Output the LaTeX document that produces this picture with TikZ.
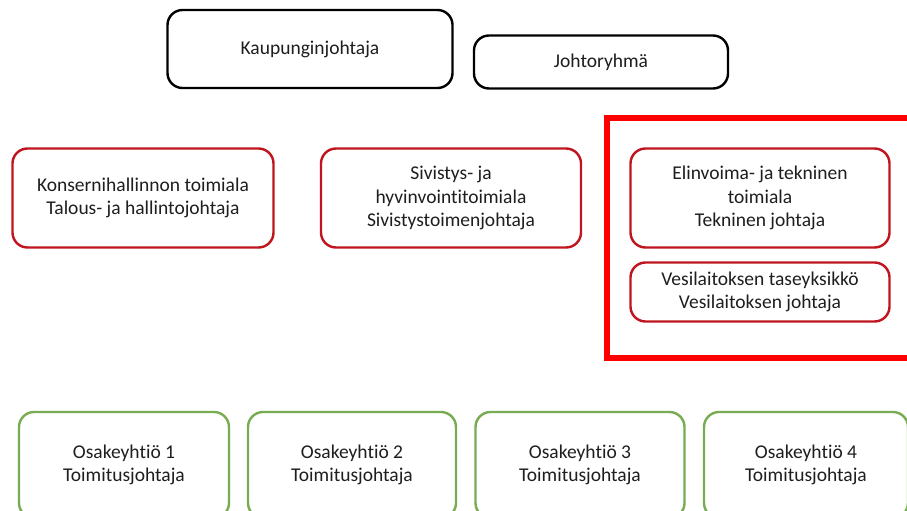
\documentclass[tikz,border=0pt]{standalone}
\usepackage{fontspec}
\setmainfont{Carlito}[Ligatures=NoCommon]
\definecolor{unitred}{RGB}{192,20,30}
\definecolor{framered}{RGB}{255,0,0}
\definecolor{firmgreen}{RGB}{120,172,80}
\definecolor{textgray}{RGB}{30,30,30}
\begin{document}
\begin{tikzpicture}[x=1pt,y=-1pt,
  box/.style={draw, line width=2.4pt, rounded corners=15pt, align=center,
    font=\fontsize{19.5}{23.5}\selectfont, text=textgray, inner sep=0pt, fill=white,
    execute at begin node={\vspace*{5pt}}},
  topbox/.style={box, draw=black},
  unitbox/.style={box, draw=unitred},
  firmbox/.style={box, draw=firmgreen},
  frame/.style={draw=framered, line width=6pt}]
  \clip (0,0) rectangle (907,511);
  \fill[white] (0,0) rectangle (907,511);

  % management
  \node[topbox, minimum width=285pt, minimum height=78pt] (mayor) at (310,49) {Kaupunginjohtaja};
  \node[topbox, minimum width=254pt, minimum height=53pt] (board) at (601,62) {Johtoryhmä};

  % highlighted division
  \draw[frame] (607,118) rectangle (915,358);

  % divisions
  \node[unitbox, minimum width=261pt, minimum height=99pt] (group) at (143,198)
    {Konsernihallinnon toimiala\\Talous- ja hallintojohtaja};
  \node[unitbox, minimum width=260pt, minimum height=99pt] (edu) at (451,198)
    {Sivistys- ja\\hyvinvointitoimiala\\Sivistystoimenjohtaja};
  \node[unitbox, minimum width=259pt, minimum height=99pt] (tech) at (760,198)
    {Elinvoima- ja tekninen\\toimiala\\Tekninen johtaja};
  \node[unitbox, minimum width=259pt, minimum height=59pt] (water) at (760,292)
    {Vesilaitoksen taseyksikkö\\Vesilaitoksen johtaja};

  % subsidiaries
  \node[firmbox, minimum width=210pt, minimum height=106pt] (oy1) at (124,465)
    {Osakeyhtiö 1\\Toimitusjohtaja};
  \node[firmbox, minimum width=208pt, minimum height=106pt] (oy2) at (352,465)
    {Osakeyhtiö 2\\Toimitusjohtaja};
  \node[firmbox, minimum width=209pt, minimum height=106pt] (oy3) at (580,465)
    {Osakeyhtiö 3\\Toimitusjohtaja};
  \node[firmbox, minimum width=204pt, minimum height=106pt] (oy4) at (806,465)
    {Osakeyhtiö 4\\Toimitusjohtaja};
\end{tikzpicture}
\end{document}
